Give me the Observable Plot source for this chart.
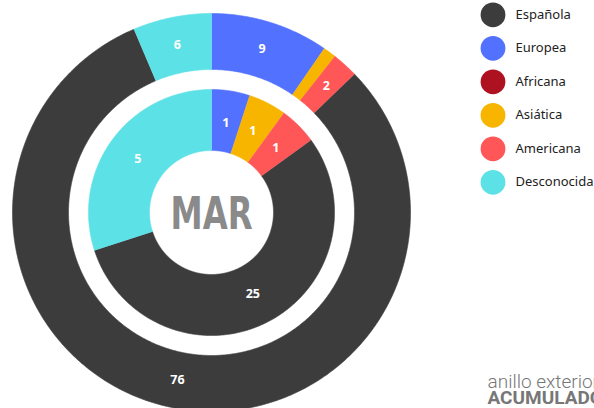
<!DOCTYPE html>
<html><head><meta charset="utf-8">
<script src="https://cdn.jsdelivr.net/npm/d3@7"></script>
<script src="https://cdn.jsdelivr.net/npm/@observablehq/plot@0.6"></script>
<style>html,body{margin:0;padding:0;background:#fff;overflow:hidden}</style>
</head><body><div id="chart"></div>
<script>
// ---- data ----
const categories = ["Española", "Europea", "Africana", "Asiática", "Americana", "Desconocida"];
const colors = ["#3c3c3c", "#5271ff", "#ae1220", "#f7b500", "#ff5757", "#5ce1e6"];
const ringOrder = ["Europea", "Africana", "Asiática", "Americana", "Española", "Desconocida"];
const outerValues = [76, 9, 0, 1, 2, 6];      // anillo exterior: acumulado
const innerValues = [25, 1, 0, 1, 1, 5];      // anillo interior: marzo (labels)
const innerArcShare = [11, 1, 0, 1, 1, 6];    // angular shares of the inner ring as drawn
const centerLabel = "MAR";
const noteLines = ["anillo exterior:", "ACUMULADO"];

// ---- layout (pixels) ----
const W = 594, H = 408, CX = 211, CY = 212;
const X = px => px - CX, Y = py => CY - py;
const minLabelAngle = 5 * Math.PI / 180;

function ring(values, shares, r0, r1, name, labelR) {
  const items = ringOrder.map(c => {
    const i = categories.indexOf(c);
    return {cat: c, value: values[i], share: shares[i]};
  });
  const arcs = d3.pie().sort(null).value(d => d.share)(items);
  const pts = [], labels = [];
  arcs.forEach((a, j) => {
    const a0 = a.startAngle, a1 = a.endAngle;
    if (a1 - a0 <= 0) return;
    const key = name + j, cat = a.data.cat;
    const n = Math.max(2, Math.ceil((a1 - a0) / (Math.PI / 360)));
    for (let k = 0; k <= n; k++) {
      const t = a0 + (a1 - a0) * k / n;
      pts.push({key, cat, x: r1 * Math.sin(t), y: r1 * Math.cos(t)});
    }
    for (let k = n; k >= 0; k--) {
      const t = a0 + (a1 - a0) * k / n;
      pts.push({key, cat, x: r0 * Math.sin(t), y: r0 * Math.cos(t)});
    }
    if (a.data.value > 0 && a1 - a0 >= minLabelAngle) {
      const m = (a0 + a1) / 2;
      labels.push({text: String(a.data.value), x: labelR * Math.sin(m), y: labelR * Math.cos(m)});
    }
  });
  return {pts, labels};
}

const outer = ring(outerValues, outerValues, 143, 199, "o", 171);
const inner = ring(innerValues, innerArcShare, 62, 123, "i", 91);
const legend = categories.map((c, i) => ({cat: c, i}));

const chart = Plot.plot({
  width: W, height: H,
  margin: 0,
  x: {domain: [X(0), X(W)], range: [0, W], axis: null},
  y: {domain: [Y(H), Y(0)], range: [H, 0], axis: null},
  color: {domain: categories, range: colors},
  style: {background: "#fff"},
  marks: [
    Plot.line(outer.pts, {x: "x", y: "y", z: "key", fill: "cat", stroke: "cat", strokeWidth: 0.6, curve: "linear"}),
    Plot.line(inner.pts, {x: "x", y: "y", z: "key", fill: "cat", stroke: "cat", strokeWidth: 0.6, curve: "linear"}),
    Plot.text([...outer.labels, ...inner.labels], {x: "x", y: "y", text: "text", fill: "#fff",
      fontSize: 12.5, fontWeight: "bold", fontFamily: "Noto Sans", textAnchor: "middle", lineAnchor: "middle"}),
    Plot.text([centerLabel], {x: () => 0, y: () => 0, text: d => d, fill: "#8a8a8a", fontSize: 45,
      fontWeight: "bold", fontFamily: "Liberation Sans Narrow, DejaVu Sans Condensed, sans-serif",
      textAnchor: "middle", lineAnchor: "middle", dy: 2}),
    Plot.dot(legend, {x: () => X(492.5), y: d => Y(14.3 + d.i * 33.5), r: 12.4, fill: "cat"}),
    Plot.text(legend, {x: () => X(515), y: d => Y(14.3 + d.i * 33.5), text: "cat", fill: "#222",
      fontSize: 13, fontFamily: "Noto Sans", textAnchor: "start", lineAnchor: "middle"}),
    Plot.text([noteLines[0]], {x: () => X(487), y: () => Y(381), text: d => d, fill: "#777",
      fontSize: 19, fontWeight: 300, fontFamily: "Roboto", textAnchor: "start", lineAnchor: "middle"}),
    Plot.text([noteLines[1]], {x: () => X(487), y: () => Y(397), text: d => d, fill: "#777",
      fontSize: 19, fontWeight: "bold", fontFamily: "Roboto", textAnchor: "start", lineAnchor: "middle"})
  ]
});
// condense the centre label to the reference width
d3.select(chart).selectAll("text").filter(function () { return this.textContent === centerLabel; })
  .attr("textLength", 82).attr("lengthAdjust", "spacingAndGlyphs");
document.getElementById("chart").appendChild(chart);
</script>
</body></html>
